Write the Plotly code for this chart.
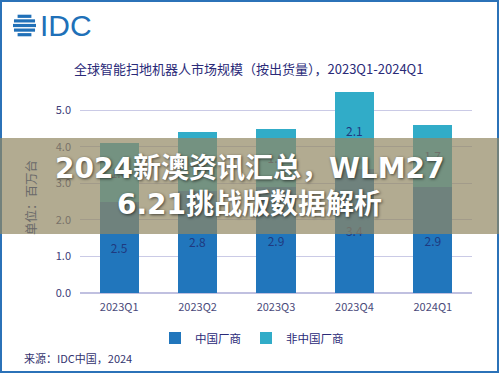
import plotly.graph_objects as go

# ---- data ----
quarters = ["2023Q1", "2023Q2", "2023Q3", "2023Q4", "2024Q1"]
china_vendors = [2.5, 2.8, 2.9, 3.4, 2.9]
non_china_vendors = [1.6, 1.6, 1.6, 2.1, 1.7]
series_names = ["中国厂商", "非中国厂商"]
y_ticks = [0, 1, 2, 3, 4, 5]

title_text = "全球智能扫地机器人市场规模（按出货量），2023Q1-2024Q1"
y_title = "单位：百万台"
source_text = "来源：IDC中国，2024"
banner_line1 = "2024新澳资讯汇总，WLM27"
banner_line2 = "6.21挑战版数据解析"

# ---- geometry helpers (pixel -> paper) ----
W, H = 499, 373
ML, MR, MT, MB = 80, 27, 92, 80
PW, PH = W - ML - MR, H - MT - MB


def px(x):
    return (x - ML) / PW


def py(y):
    return (H - MB - y) / PH


CJK = "Noto Sans CJK SC"
BLUE = "#2176BC"
TEAL = "#31ACC8"
NAVY = "#2A2A78"
LABEL = "#1F3A80"

fig = go.Figure()
fig.add_trace(go.Bar(
    x=quarters, y=china_vendors, name=series_names[0],
    marker=dict(color=BLUE, line=dict(width=0)),
    text=[f"{v:.1f}" for v in china_vendors],
    textposition="inside", insidetextanchor="middle", textangle=0,
    textfont=dict(size=12, color=LABEL, family=CJK),
))
fig.add_trace(go.Bar(
    x=quarters, y=non_china_vendors, name=series_names[1],
    marker=dict(color=TEAL, line=dict(width=0)),
    text=[f"{v:.1f}" for v in non_china_vendors],
    textposition="inside", insidetextanchor="middle", textangle=0,
    textfont=dict(size=12, color=LABEL, family=CJK),
))

shapes = []
# outer blue frame
shapes.append(dict(type="rect", xref="paper", yref="paper",
                   x0=px(1), x1=px(498), y0=py(372), y1=py(1),
                   line=dict(color="#2B72B8", width=2), fillcolor="rgba(0,0,0,0)",
                   layer="above"))
# IDC logo: striped sphere
cx, cy, r = 24.5, 25.5, 11.5
for dy in [-9.2, -4.6, 0, 4.6, 9.2]:
    half = (max(r * r - dy * dy, 0)) ** 0.5
    shapes.append(dict(type="line", xref="paper", yref="paper",
                       x0=px(cx - half), x1=px(cx + half),
                       y0=py(cy + dy), y1=py(cy + dy),
                       line=dict(color="#2070B8", width=3.2), layer="above"))
# semi-transparent banner
shapes.append(dict(type="rect", xref="paper", yref="paper",
                   x0=px(0), x1=px(W), y0=py(234), y1=py(138),
                   fillcolor="rgba(145,136,98,0.7)", line=dict(width=0),
                   layer="above"))

annotations = [
    dict(text="IDC", x=px(38), y=py(26), xref="paper", yref="paper",
         xanchor="left", yanchor="middle", showarrow=False,
         font=dict(family="Liberation Sans, Arial", size=30, color="#2070B8")),
    dict(text=title_text, x=px(248), y=py(68), xref="paper", yref="paper",
         xanchor="center", yanchor="middle", showarrow=False,
         font=dict(family=CJK, size=13, color=NAVY)),
    dict(text=y_title, x=px(30), y=py(198), xref="paper", yref="paper",
         xanchor="center", yanchor="middle", showarrow=False, textangle=-90,
         font=dict(family=CJK, size=12.5, color="#6A6A6A")),
    dict(text=source_text, x=px(22), y=py(358), xref="paper", yref="paper",
         xanchor="left", yanchor="middle", showarrow=False,
         font=dict(family=CJK, size=11, color="#33336E")),
    dict(text=banner_line1, x=px(250), y=py(168), xref="paper", yref="paper",
         xanchor="center", yanchor="middle", showarrow=False,
         font=dict(family="DejaVu Sans, " + CJK, size=28, color="white",
                   weight="bold", shadow="1px 1px 3px rgba(0,0,0,0.6)")),
    dict(text=banner_line2, x=px(249), y=py(204), xref="paper", yref="paper",
         xanchor="center", yanchor="middle", showarrow=False,
         font=dict(family="DejaVu Sans, " + CJK, size=28, color="white",
                   weight="bold", shadow="1px 1px 3px rgba(0,0,0,0.6)")),
]

fig.update_layout(
    width=W, height=H,
    margin=dict(l=ML, r=MR, t=MT, b=MB, pad=0, autoexpand=False),
    paper_bgcolor="white", plot_bgcolor="white",
    barmode="stack", bargap=0.5,
    font=dict(family=CJK, color=NAVY),
    xaxis=dict(showgrid=False, showline=False, ticks="", zeroline=False,
               tickfont=dict(size=11, color="#4A4A7A", family=CJK),
               ticklabelstandoff=6, fixedrange=True),
    yaxis=dict(range=[0, 5.5], tickvals=y_ticks, tickformat=".1f",
               showgrid=True, gridcolor="#CACAE6", gridwidth=1,
               zeroline=True, zerolinecolor="#C0C0E0", zerolinewidth=1.5,
               showline=False, ticks="",
               tickfont=dict(size=11, color="#3C3C78", family=CJK),
               ticklabelstandoff=8, fixedrange=True),
    showlegend=True,
    legend=dict(orientation="h", x=px(252), xanchor="center",
                y=py(338), yanchor="middle",
                font=dict(size=11.5, color=NAVY, family=CJK),
                bgcolor="rgba(0,0,0,0)", traceorder="normal",
                itemwidth=30),
    shapes=shapes,
    annotations=annotations,
)

fig.write_html(
    "out.html",
    config={"displayModeBar": False},
    post_script="document.body.style.margin='0';document.body.style.overflow='hidden';",
)
